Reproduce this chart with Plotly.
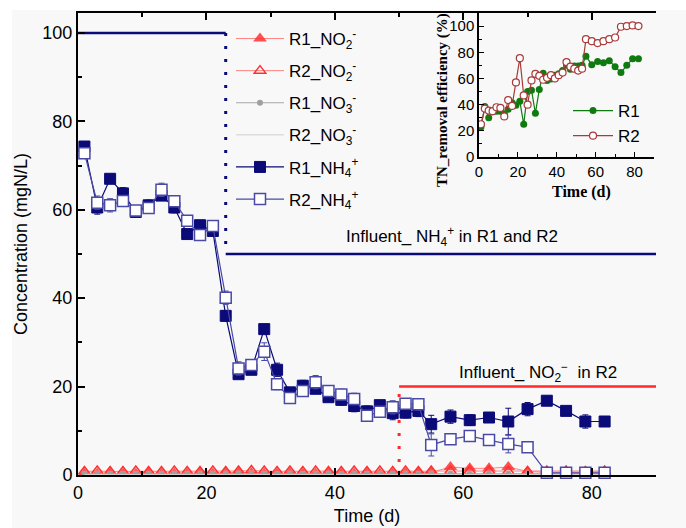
import plotly.graph_objects as go

# ---------------- data ----------------
days = [1, 3, 5, 7, 9, 11, 13, 15, 17, 19, 21, 23, 25, 27, 29, 31, 33, 35, 37, 39,
        41, 43, 45, 47, 49, 51, 53, 55, 58, 61, 64, 67, 70, 73, 76, 79, 82]

r1_nh4 = [74.3, 60.5, 67.0, 63.7, 59.5, 61.0, 63.2, 60.5, 54.5, 56.5, 55.2, 36.0, 22.8,
          23.8, 33.0, 23.8, 18.7, 20.2, 19.5, 17.6, 17.0, 15.6, 14.4, 15.8, 14.0, 14.1,
          14.5, 11.5, 13.2, 12.4, 13.0, 12.1, 14.9, 16.8, 14.5, 12.1, 12.1]
r1_nh4_err = [0.8, 1.5, 1.0, 1.3, 0.8, 1.2, 1.0, 1.2, 1.0, 1.0, 1.0, 1.2, 1.0, 1.0, 1.0,
              1.5, 1.0, 1.2, 1.0, 1.0, 1.2, 1.3, 1.2, 1.0, 1.5, 1.2, 1.3, 2.0, 1.5, 1.2,
              1.0, 3.0, 1.5, 1.0, 1.0, 1.5, 0.8]
r2_nh4 = [72.8, 61.6, 61.0, 62.0, 59.8, 60.4, 64.5, 61.9, 57.5, 54.3, 56.3, 40.1, 24.1,
          24.9, 27.9, 20.5, 17.4, 19.0, 21.0, 19.0, 18.2, 17.2, 13.4, 14.3, 15.3, 16.1,
          16.0, 6.8, 8.1, 8.8, 7.9, 7.0, 6.3, 0.5, 0.5, 0.5, 0.5]
r2_nh4_err = [0.8, 1.5, 1.5, 1.2, 0.8, 1.0, 1.5, 1.2, 1.2, 1.0, 1.0, 1.5, 1.5, 1.2, 2.0,
              1.2, 1.0, 1.2, 1.5, 1.0, 1.2, 1.3, 1.0, 1.2, 1.5, 1.2, 1.3, 2.5, 1.2, 1.0,
              1.0, 2.0, 1.0, 0.5, 0.5, 0.5, 0.5]

r1_no2 = [0.3, 0.3, 0.4, 0.3, 0.3, 0.4, 0.3, 0.3, 0.3, 0.4, 0.3, 0.4, 0.5, 0.4, 0.3, 0.3,
          0.4, 0.3, 0.3, 0.4, 0.3, 0.3, 0.4, 0.3, 0.3, 0.4, 0.5, 0.6, 1.8, 1.5, 1.5, 1.8,
          0.8, 0.6, 0.7, 0.6, 0.8]
r2_no2 = [0.8, 0.9, 0.8, 0.8, 0.9, 0.8, 0.8, 0.9, 0.8, 0.8, 0.9, 0.8, 0.9, 1.0, 0.9, 0.8,
          0.9, 0.8, 0.9, 0.8, 0.8, 0.9, 0.8, 0.9, 0.8, 0.9, 0.8, 0.9, 0.9, 0.9, 0.9, 0.8,
          0.8, 0.9, 0.9, 0.8, 0.9]
r1_no3 = [0.3, 0.3, 0.2, 0.3, 0.3, 0.2, 0.3, 0.3, 0.2, 0.3, 0.3, 0.2, 0.3, 0.3, 0.2, 0.3,
          0.3, 0.2, 0.3, 0.3, 0.2, 0.3, 0.3, 0.2, 0.3, 0.3, 0.2, 0.3, 0.3, 0.2, 0.3, 0.3,
          0.2, 0.3, 0.3, 0.2, 0.3]
r2_no3 = [0.1, 0.1, 0.2, 0.1, 0.1, 0.2, 0.1, 0.1, 0.2, 0.1, 0.1, 0.2, 0.1, 0.1, 0.2, 0.1,
          0.1, 0.2, 0.1, 0.1, 0.2, 0.1, 0.1, 0.2, 0.1, 0.1, 0.2, 0.1, 0.1, 0.2, 0.1, 0.1,
          0.2, 0.1, 0.1, 0.2, 0.1]

# influent levels
nh4_inf_days = [0, 23, 90]
nh4_inf_levels = [100, 50]
no2_inf_days = [50, 90]
no2_inf_level = 20

# inset: TN removal efficiency (%)
tn_r1 = [23, 38.5, 30, 34.5, 35, 35, 33, 36.5, 41.5, 39.5, 42.5, 25, 50, 51, 33.5, 51.5,
         64, 58.5, 59.5, 62.5, 63.5, 66, 70, 67, 69.5, 69.5, 70, 77, 70.5, 73, 72, 73.5,
         69, 64.5, 70, 75, 75]
tn_r2 = [25, 37, 35.5, 35, 38, 37.5, 31, 43.5, 39, 57, 75.5, 47, 40, 58.5, 63.5, 62, 59,
         60.5, 62.5, 60, 62.5, 64.5, 72.5, 69, 67.5, 66, 67.5, 90, 88.5, 87, 88.5, 90,
         91.3, 99.5, 100, 100.5, 100]

main_x_ticks = [0, 20, 40, 60, 80]
main_y_ticks = [0, 20, 40, 60, 80, 100]
inset_x_ticks = [0, 20, 40, 60, 80]
inset_y_ticks = [0, 20, 40, 60, 80, 100]

# ---------------- styling ----------------
W, H = 686, 528
NAVY = "#0a0a78"
NAVY2 = "#4a4aa6"
RED = "#ff2a2a"
SANS = "Liberation Sans, Arial, sans-serif"
SERIF = "Liberation Serif, Times New Roman, serif"

fig = go.Figure()

# influent lines (main axes)
fig.add_trace(go.Scatter(x=[nh4_inf_days[0], nh4_inf_days[1], None, nh4_inf_days[1], nh4_inf_days[2]],
                         y=[nh4_inf_levels[0], nh4_inf_levels[0], None, nh4_inf_levels[1], nh4_inf_levels[1]],
                         mode="lines", line=dict(color=NAVY, width=2.5), showlegend=False,
                         hoverinfo="skip", cliponaxis=False))
fig.add_trace(go.Scatter(x=[nh4_inf_days[1], nh4_inf_days[1]], y=nh4_inf_levels,
                         mode="lines", line=dict(color=NAVY, width=3, dash="3px,10px"),
                         showlegend=False, hoverinfo="skip"))
fig.add_trace(go.Scatter(x=no2_inf_days, y=[no2_inf_level, no2_inf_level],
                         mode="lines", line=dict(color=RED, width=2.5), showlegend=False,
                         hoverinfo="skip", cliponaxis=False))
fig.add_trace(go.Scatter(x=[no2_inf_days[0], no2_inf_days[0]], y=[0, no2_inf_level],
                         mode="lines", line=dict(color=RED, width=3, dash="3px,10px"),
                         showlegend=False, hoverinfo="skip"))

# nitrite / nitrate series
fig.add_trace(go.Scatter(x=days, y=r1_no2, mode="lines+markers", name="R1_NO<sub>2</sub><sup>-</sup>",
                         legendgroup="a",
                         line=dict(color="#ff8080", width=1),
                         marker=dict(symbol="triangle-up", size=12, color="rgba(255,50,50,0.85)",
                                     line=dict(width=0)), cliponaxis=False))
fig.add_trace(go.Scatter(x=days, y=r2_no2, mode="lines+markers", name="R2_NO<sub>2</sub><sup>-</sup>",
                         legendgroup="b",
                         line=dict(color="#ff8080", width=1),
                         marker=dict(symbol="triangle-up-open", size=10, color="#ff3030",
                                     line=dict(width=1.5)), cliponaxis=False))
fig.add_trace(go.Scatter(x=days, y=r1_no3, mode="lines+markers", name="R1_NO<sub>3</sub><sup>-</sup>",
                         legendgroup="c",
                         line=dict(color="#a8a8a8", width=1),
                         marker=dict(symbol="circle", size=6, color="#a0a0a0"), cliponaxis=False))
fig.add_trace(go.Scatter(x=days, y=r2_no3, mode="lines", name="R2_NO<sub>3</sub><sup>-</sup>",
                         legendgroup="d",
                         line=dict(color="#d0d0d0", width=1), cliponaxis=False))

# ammonium series
fig.add_trace(go.Scatter(x=days, y=r1_nh4, mode="lines+markers", name="R1_NH<sub>4</sub><sup>+</sup>",
                         legendgroup="e",
                         line=dict(color=NAVY, width=1.2),
                         marker=dict(symbol="square", size=11, color=NAVY, line=dict(color=NAVY, width=1)),
                         error_y=dict(type="data", array=r1_nh4_err, color=NAVY, thickness=1, width=3)))
fig.add_trace(go.Scatter(x=days, y=r2_nh4, mode="lines+markers", name="R2_NH<sub>4</sub><sup>+</sup>",
                         legendgroup="f",
                         line=dict(color=NAVY2, width=1.2),
                         marker=dict(symbol="square", size=11, color="white", line=dict(color=NAVY2, width=1.5)),
                         error_y=dict(type="data", array=r2_nh4_err, color=NAVY2, thickness=1, width=3),
                         cliponaxis=False))

# inset
fig.add_trace(go.Scatter(x=days, y=tn_r1, mode="lines+markers", name="R1", xaxis="x2", yaxis="y2",
                         legend="legend2",
                         line=dict(color="#0f7a0f", width=1.2),
                         marker=dict(symbol="circle", size=7, color="#0f7a0f")))
fig.add_trace(go.Scatter(x=days, y=tn_r2, mode="lines+markers", name="R2", xaxis="x2", yaxis="y2",
                         legend="legend2",
                         line=dict(color="#a83a3a", width=1.2),
                         marker=dict(symbol="circle", size=7, color="white",
                                     line=dict(color="#a83a3a", width=1.2))))

# annotations
def note(x, y, text, font, angle=0):
    fig.add_annotation(x=x / W, y=1 - y / H, xref="paper", yref="paper", text=text,
                       showarrow=False, textangle=angle, xanchor="center", yanchor="middle",
                       font=font)

note(452, 236, "Influent_ NH<sub>4</sub><sup>+</sup> in R1 and R2", dict(family=SANS, size=17, color="black"))
note(538, 372, "Influent_ NO<sub>2</sub><sup>−</sup>  in R2", dict(family=SANS, size=17, color="black"))
note(581, 192, "<b>Time (d)</b>", dict(family=SERIF, size=16, color="black"))
note(442, 100, "<b>TN_removal efficiency (%)</b>", dict(family=SERIF, size=15, color="black"), angle=-90)

# background panel
fig.add_shape(type="rect", xref="paper", yref="paper", x0=12 / W, x1=1, y0=0, y1=1 - 10 / H,
              fillcolor="#f8f8f8", line=dict(width=0), layer="below")

axis_common = dict(showline=True, linecolor="black", ticks="inside", tickcolor="black",
                   showgrid=False, zeroline=False, automargin=False)

fig.update_layout(
    width=W, height=H, margin=dict(l=0, r=0, t=0, b=0, pad=0, autoexpand=False),
    paper_bgcolor="white", plot_bgcolor="rgba(0,0,0,0)",
    font=dict(family=SANS, color="black"),
    xaxis=dict(domain=[78 / W, 656 / W], range=[0, 90], tickvals=main_x_ticks,
               ticklen=7, linewidth=2, tickwidth=1.5, mirror="ticks",
               minor=dict(dtick=10, ticks="inside", ticklen=4, tickcolor="black"),
               tickfont=dict(size=18), anchor="y",
               title=dict(text="Time (d)", font=dict(size=18), standoff=8), **axis_common),
    yaxis=dict(domain=[1 - 475 / H, 1 - 13 / H], range=[0, 104.5], tickvals=main_y_ticks,
               ticklen=7, linewidth=2, tickwidth=1.5,
               minor=dict(dtick=10, ticks="inside", ticklen=4, tickcolor="black"),
               tickfont=dict(size=18), anchor="x",
               title=dict(text="Concentration (mgN/L)", font=dict(size=18), standoff=10), **axis_common),
    xaxis2=dict(domain=[479 / W, 654 / W], range=[0, 90], tickvals=inset_x_ticks,
                ticklen=5, linewidth=1.5, anchor="y2",
                minor=dict(dtick=10, ticks="inside", ticklen=3, tickcolor="black"),
                tickfont=dict(size=15), **axis_common),
    yaxis2=dict(domain=[1 - 157 / H, 1 - 13 / H], range=[0, 110], tickvals=inset_y_ticks,
                ticklen=5, linewidth=1.5, anchor="x2",
                minor=dict(dtick=10, ticks="inside", ticklen=3, tickcolor="black"),
                tickfont=dict(size=15), **axis_common),
    yaxis3=dict(overlaying="y2", side="right", anchor="x2", range=[0, 110], tickvals=inset_y_ticks,
                ticklen=5, linewidth=1.5,
                minor=dict(dtick=10, ticks="inside", ticklen=3, tickcolor="black"),
                tickfont=dict(size=15), **axis_common),
    legend=dict(x=231 / W, y=1 - 21 / H, xanchor="left", yanchor="top",
                bgcolor="rgba(0,0,0,0)", font=dict(size=17, family=SANS),
                itemwidth=48, tracegroupgap=7, traceorder="grouped"),
    legend2=dict(x=568 / W, y=1 - 93 / H, xanchor="left", yanchor="top",
                 bgcolor="rgba(0,0,0,0)", font=dict(size=17, family=SANS),
                 itemwidth=40, tracegroupgap=0),
)

fig.write_html("out.html", config={"displayModeBar": False},
               post_script="document.body.style.margin='0';")
